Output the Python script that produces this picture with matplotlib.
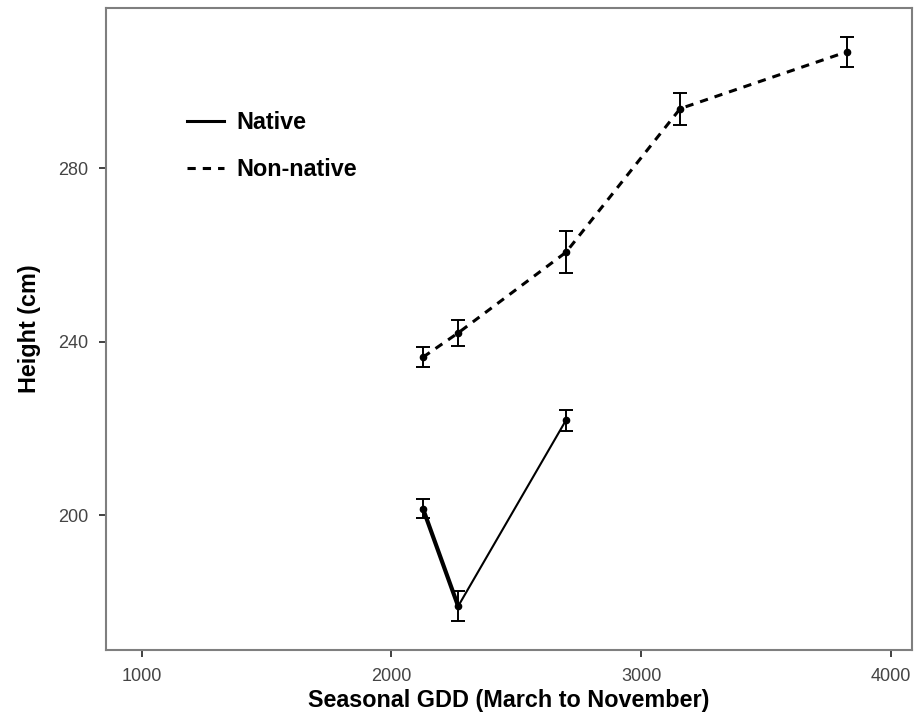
import matplotlib
matplotlib.use("Agg")
import matplotlib.pyplot as plt
from matplotlib.lines import Line2D

plt.rcParams['font.family'] = ['Liberation Sans', 'DejaVu Sans']

native_gdd = [2126, 2267, 2699]
native_height = [201.5, 179.0, 221.9]
native_se = [2.1, 3.5, 2.4]

nonnative_gdd = [2126, 2267, 2699, 3156, 3823]
nonnative_height = [236.4, 242.0, 260.6, 293.7, 306.8]
nonnative_se = [2.3, 3.0, 4.8, 3.7, 3.5]

x_ticks = [1000, 2000, 3000, 4000]
y_ticks = [200, 240, 280]

DASH = (2.7, 2.3)

fig = plt.figure(figsize=(9.17, 7.14), dpi=100)
ax = fig.add_axes([0.1156, 0.0896, 0.8789, 0.8992])

# Native
ax.plot(native_gdd, native_height, color='black', lw=1.5, solid_capstyle='butt')
ax.plot(native_gdd[:2], native_height[:2], color='black', lw=3.0)
ax.errorbar(native_gdd, native_height, yerr=native_se, fmt='o', color='black',
            ms=4.5, capsize=5, elinewidth=1.4, capthick=1.4)

# Non-native
ax.plot(nonnative_gdd, nonnative_height, color='black', lw=2.2,
        dashes=DASH, dash_capstyle='butt')
ax.errorbar(nonnative_gdd, nonnative_height, yerr=nonnative_se, fmt='o', color='black',
            ms=4.5, capsize=5, elinewidth=1.4, capthick=1.4)

ax.set_xlim(857, 4084)
ax.set_ylim(168.9, 316.9)
ax.set_xticks(x_ticks)
ax.set_yticks(y_ticks)

for s in ax.spines.values():
    s.set_color('#7f7f7f')
    s.set_linewidth(1.5)
ax.tick_params(axis='both', direction='out', length=5, width=1.3, color='#333333',
               labelcolor='#444444', labelsize=13)
ax.tick_params(axis='x', pad=8)
ax.tick_params(axis='y', pad=8)

ax.set_xlabel('Seasonal GDD (March to November)', fontsize=16.8, fontweight='bold', labelpad=3)
ax.set_ylabel('Height (cm)', fontsize=16.8, fontweight='bold', labelpad=12)

handles = [Line2D([0], [0], color='black', lw=2.2),
           Line2D([0], [0], color='black', lw=2.2, dashes=DASH)]
leg = ax.legend(handles, ['Native', 'Non-native'], loc='upper left',
                bbox_to_anchor=(0.1005, 0.840), frameon=False, handlelength=1.6,
                handletextpad=0.5, labelspacing=1.05, borderpad=0, borderaxespad=0,
                prop={'weight': 'bold', 'size': 16.8})

fig.savefig('out.png', dpi=100)
